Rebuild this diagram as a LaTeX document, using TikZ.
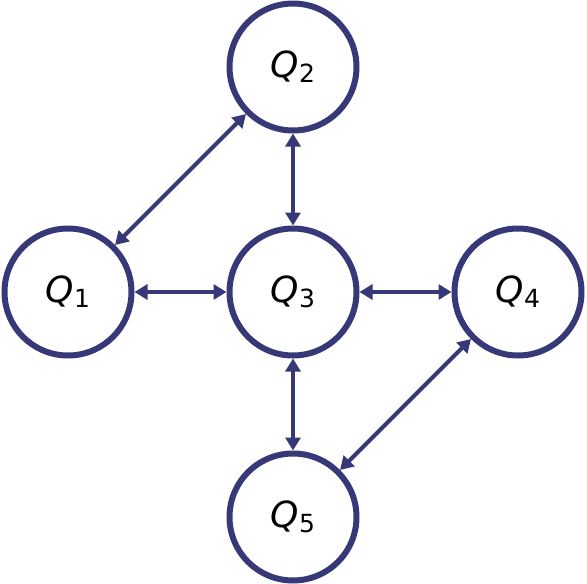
\documentclass[tikz,border=0pt]{standalone}
\usepackage{fontspec}
\setmainfont{DejaVu Sans}
\usetikzlibrary{arrows.meta}
\definecolor{qblue}{RGB}{54,56,120}
\newcommand{\qlab}[1]{{\fontsize{36}{42}\selectfont\itshape Q}\raisebox{-5pt}{\fontsize{25}{30}\selectfont #1}}
\tikzset{
  qnode/.style={circle, draw=qblue, line width=6pt, minimum size=127pt, inner sep=0pt, fill=white, text=black},
  link/.style={draw=qblue, line width=4pt, {Triangle[length=13pt,width=15pt]}-{Triangle[length=13pt,width=15pt]}}
}
\begin{document}
\begin{tikzpicture}[x=1pt,y=-1pt]
\useasboundingbox (0,0) rectangle (587,584);
\node[qnode] (q2) at (293,67) {\qlab{2}};
\node[qnode] (q1) at (68,292) {\qlab{1}};
\node[qnode] (q3) at (293,292) {\qlab{3}};
\node[qnode] (q4) at (518,292) {\qlab{4}};
\node[qnode] (q5) at (293,517) {\qlab{5}};
\draw[link] (q1) -- (q2);
\draw[link] (q2) -- (q3);
\draw[link] (q1) -- (q3);
\draw[link] (q3) -- (q4);
\draw[link] (q3) -- (q5);
\draw[link] (q5) -- (q4);
\end{tikzpicture}
\end{document}
